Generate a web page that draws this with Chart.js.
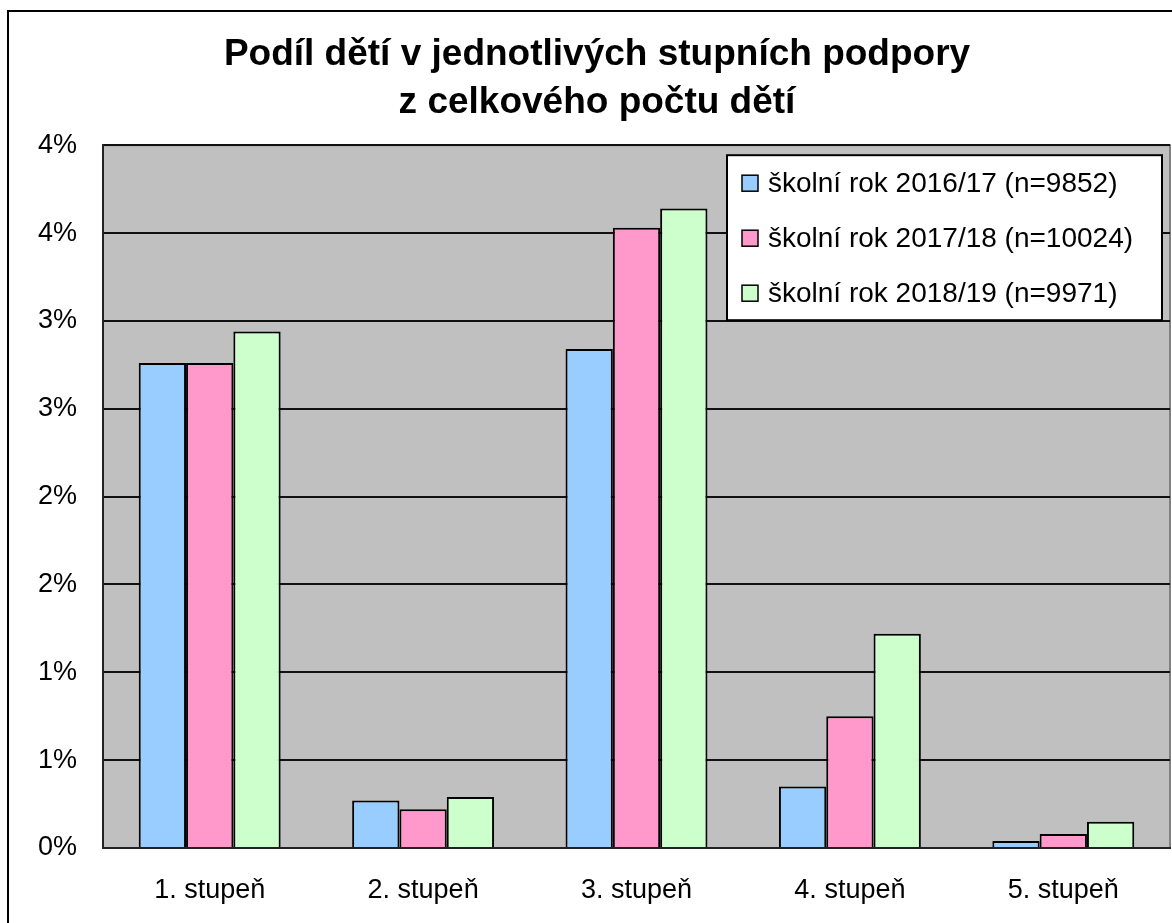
<!DOCTYPE html>
<html lang="cs">
<head>
    <meta charset="UTF-8">
    <title>Podíl dětí v jednotlivých stupních podpory</title>
    <script src="https://cdn.jsdelivr.net/npm/chart.js"></script>
    <style>
        body { margin: 0; background: #fff; }
        #wrap { width: 1172px; height: 923px; }
    </style>
</head>
<body>
    <div id="wrap"><canvas id="podporaChart" width="1172" height="923"></canvas></div>

    <script>
        const categories = ['1. stupeň', '2. stupeň', '3. stupeň', '4. stupeň', '5. stupeň'];
        const seriesNames = [
            'školní rok 2016/17 (n=9852)',
            'školní rok 2017/18 (n=10024)',
            'školní rok 2018/19 (n=9971)'
        ];
        const rok2016 = [2.76, 0.27, 2.84, 0.35, 0.04];
        const rok2017 = [2.76, 0.22, 3.53, 0.75, 0.08];
        const rok2018 = [2.94, 0.29, 3.64, 1.22, 0.15];
        // Excel rounded the 0.5 steps to whole percent
        const yTickLabels = ['0%', '1%', '1%', '2%', '2%', '3%', '3%', '4%', '4%'];
        const titleLines = ['Podíl dětí v jednotlivých stupních podpory', 'z celkového počtu dětí'];

        const FONT = '"Liberation Sans", Arial, sans-serif';
        const colors = ['#99CCFF', '#FF99CC', '#CCFFCC'];

        // gray plot area + outer frame
        const plotBg = {
            id: 'plotBg',
            beforeDraw(chart) {
                const { ctx, chartArea: a } = chart;
                ctx.save();
                ctx.fillStyle = '#C0C0C0';
                ctx.fillRect(a.left, a.top, a.right - a.left, a.bottom - a.top);
                ctx.strokeStyle = '#808080';
                ctx.lineWidth = 2;
                ctx.strokeRect(a.left, a.top, a.right - a.left, a.bottom - a.top);
                ctx.restore();
            },
            afterDraw(chart) {
                const ctx = chart.ctx;
                ctx.save();
                ctx.strokeStyle = '#000';
                ctx.lineWidth = 2;
                ctx.strokeRect(8, 11, 1400, 1200);
                ctx.restore();
            }
        };

        // legend box inside the plot, top right
        const boxLegend = {
            id: 'boxLegend',
            afterDraw(chart) {
                const { ctx, chartArea: a } = chart;
                const x = a.right - 443, y = a.top + 10, w = 435, h = 165;
                ctx.save();
                ctx.fillStyle = '#fff';
                ctx.fillRect(x, y, w, h);
                ctx.strokeStyle = '#000';
                ctx.lineWidth = 2;
                ctx.strokeRect(x, y, w, h);
                ctx.font = '28px ' + FONT;
                ctx.textBaseline = 'middle';
                chart.data.datasets.forEach((ds, i) => {
                    const cy = y + 28 + i * 55;
                    ctx.fillStyle = ds.backgroundColor;
                    ctx.fillRect(x + 15, cy - 8, 16, 16);
                    ctx.lineWidth = 1.5;
                    ctx.strokeRect(x + 15, cy - 8, 16, 16);
                    ctx.fillStyle = '#000';
                    ctx.fillText(ds.label, x + 41, cy + 1);
                });
                ctx.restore();
            }
        };

        const chart = new Chart(document.getElementById('podporaChart'), {
            type: 'bar',
            data: {
                labels: categories,
                datasets: [rok2016, rok2017, rok2018].map((d, i) => ({
                    label: seriesNames[i],
                    data: d,
                    backgroundColor: colors[i],
                    borderColor: '#000',
                    borderWidth: 2,
                    categoryPercentage: 0.665,
                    barPercentage: 1.0
                }))
            },
            options: {
                responsive: false,
                animation: false,
                layout: { padding: { left: 24, right: 2, top: 0, bottom: 0 } },
                plugins: {
                    legend: { display: false },
                    tooltip: { enabled: false },
                    title: {
                        display: true,
                        text: titleLines,
                        color: '#000',
                        font: { family: FONT, size: 37, weight: 'bold', lineHeight: 1.3 },
                        padding: { top: 31, bottom: 18 }
                    }
                },
                scales: {
                    x: {
                        grid: { display: false, drawTicks: false },
                        border: { display: true, color: '#222', width: 2 },
                        ticks: { color: '#000', font: { family: FONT, size: 27 }, padding: 26 },
                        afterFit: s => { s.height = 75; }
                    },
                    y: {
                        min: 0,
                        max: 4,
                        grid: { color: '#111', lineWidth: 2, drawTicks: false },
                        border: { display: true, color: '#222', width: 2 },
                        ticks: {
                            stepSize: 0.5,
                            color: '#000',
                            padding: 26,
                            font: { family: FONT, size: 27 },
                            callback: (v, i) => yTickLabels[i]
                        },
                        afterFit: s => { s.width = 79; }
                    }
                }
            },
            plugins: [plotBg, boxLegend]
        });
    </script>
</body>
</html>
